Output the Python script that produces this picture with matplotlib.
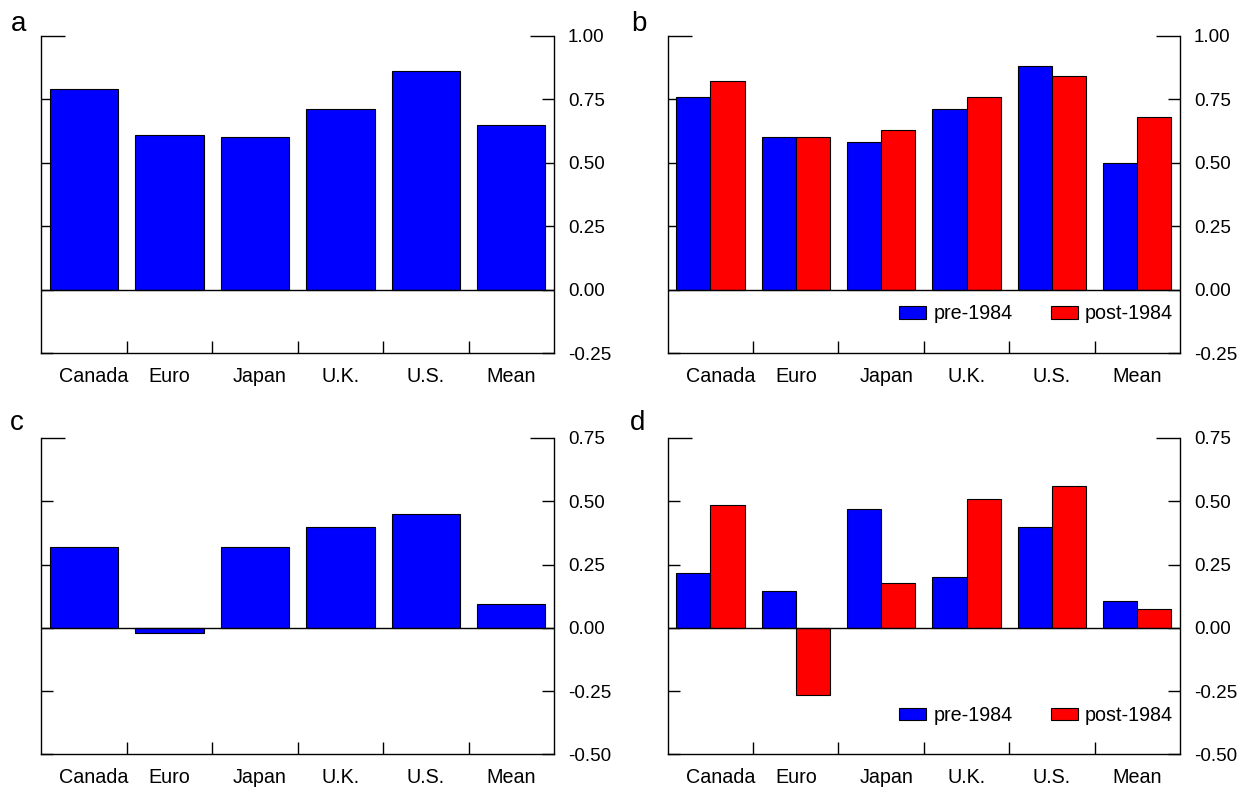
import matplotlib.pyplot as plt
import matplotlib.transforms as mtransforms
import numpy as np

plt.rcParams['font.family'] = ['Liberation Sans', 'DejaVu Sans']

categories = ['Canada', 'Euro', 'Japan', 'U.K.', 'U.S.', 'Mean']

# panel a / c: full sample
a_values = [0.79, 0.61, 0.60, 0.71, 0.86, 0.65]
c_values = [0.32, -0.02, 0.32, 0.40, 0.45, 0.095]

# panel b / d: split sample
b_pre = [0.76, 0.60, 0.58, 0.71, 0.88, 0.50]
b_post = [0.82, 0.60, 0.63, 0.76, 0.84, 0.68]
d_pre = [0.215, 0.146, 0.468, 0.20, 0.40, 0.107]
d_post = [0.485, -0.265, 0.175, 0.51, 0.56, 0.075]

top_ticks = [-0.25, 0.0, 0.25, 0.5, 0.75, 1.0]
bottom_ticks = [-0.5, -0.25, 0.0, 0.25, 0.5, 0.75]

YFS = 13.6
XFS = 14.2

fig = plt.figure(figsize=(12.56, 7.89), dpi=100)
W, H = 1256, 789

# small horizontal nudges (px) of some category names, as in the original
label_shift = {'Canada': 10, 'Japan': 5}


def make_ax(left, top, right, bottom):
    return fig.add_axes([left / W, 1 - bottom / H, (right - left) / W, (bottom - top) / H])


def style(ax, yticks):
    x = np.arange(1, len(categories) + 1)
    ax.set_xlim(0.5, len(categories) + 0.5)
    ax.set_ylim(yticks[0], yticks[-1])
    ax.axhline(0, color='black', lw=1.0, zorder=3)
    ax.spines['top'].set_visible(False)
    for s in ['left', 'right', 'bottom']:
        ax.spines[s].set_linewidth(1.0)
    # y axis: ticks both sides, labels right
    ax.set_yticks(yticks)
    ax.set_yticklabels(['%.2f' % v for v in yticks])
    ax.tick_params(axis='y', which='major', direction='in', length=8.6, width=1.0,
                   left=True, right=True, labelleft=False, labelright=True,
                   labelsize=YFS, pad=10)
    top_tick = ax.yaxis.get_major_ticks()[-1]
    top_tick.tick1line.set_markersize(17)
    top_tick.tick2line.set_markersize(17)
    # x axis: boundaries as ticks, names at centers
    ax.set_xticks(x[:-1] + 0.5)
    ax.set_xticklabels([])
    ax.set_xticks(x, minor=True)
    ax.set_xticklabels(categories, minor=True)
    ax.tick_params(axis='x', which='major', direction='in', length=8.6, width=1.0)
    ax.tick_params(axis='x', which='minor', length=0, labelsize=XFS, pad=10)
    for lbl in ax.get_xticklabels(minor=True):
        dx = label_shift.get(lbl.get_text(), 0)
        if dx:
            lbl.set_transform(lbl.get_transform() +
                              mtransforms.ScaledTranslation(dx / 100, 0, fig.dpi_scale_trans))
    return x


def single(ax, vals, yticks):
    x = style(ax, yticks)
    ax.bar(x, vals, width=0.8, color='#0000ff', edgecolor='black', linewidth=0.8, zorder=2)


def pair(ax, pre, post, yticks):
    x = style(ax, yticks)
    ax.bar(x - 0.2, pre, width=0.4, color='#0000ff', edgecolor='black', linewidth=0.8,
           zorder=2, label='pre-1984')
    ax.bar(x + 0.2, post, width=0.4, color='#ff0000', edgecolor='black', linewidth=0.8,
           zorder=2, label='post-1984')
    ax.legend(loc='center right', bbox_to_anchor=(0.986, 0.123), ncol=2, frameon=False,
              fontsize=XFS, borderpad=0, borderaxespad=0, handlelength=1.37,
              handleheight=0.62, handletextpad=0.36, columnspacing=1.93)


ax_a = make_ax(41.3, 35.7, 554, 353)
ax_b = make_ax(667.7, 35.7, 1180, 353)
ax_c = make_ax(41.3, 438, 554, 754.3)
ax_d = make_ax(667.7, 438, 1180, 754.3)

single(ax_a, a_values, top_ticks)
pair(ax_b, b_pre, b_post, top_ticks)
single(ax_c, c_values, bottom_ticks)
pair(ax_d, d_pre, d_post, bottom_ticks)

for lbl, px, py in [('a', 11, 31), ('b', 631, 31), ('c', 10, 430), ('d', 630, 430)]:
    fig.text(px / W, 1 - py / H, lbl, fontsize=20, ha='left', va='baseline')

fig.savefig('out.png', dpi=100)
